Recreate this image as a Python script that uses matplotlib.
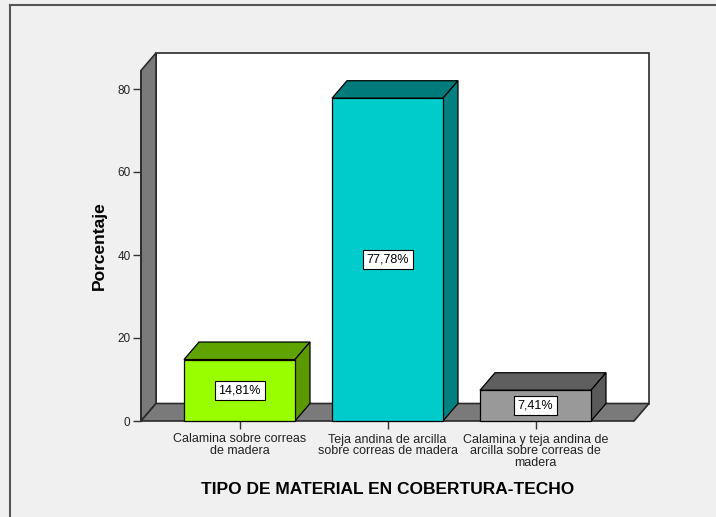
import matplotlib
matplotlib.use("Agg")
import matplotlib.pyplot as plt
from matplotlib.patches import Polygon, Rectangle

plt.rcParams['font.family'] = ['Liberation Sans', 'DejaVu Sans']

categories = ["Calamina sobre correas\nde madera",
              "Teja andina de arcilla\nsobre correas de madera",
              "Calamina y teja andina de\narcilla sobre correas de\nmadera"]
values = [14.81, 77.78, 7.41]
value_labels = ["14,81%", "77,78%", "7,41%"]
yticks = [0, 20, 40, 60, 80]
xlabel = "TIPO DE MATERIAL EN COBERTURA-TECHO"
ylabel = "Porcentaje"

front_colors = ["#99FF00", "#00CCCC", "#999999"]
top_colors = ["#5FA300", "#007B7B", "#5F5F5F"]
side_colors = ["#5A9A00", "#008080", "#595959"]

W, H = 716, 517
fig = plt.figure(figsize=(W / 100, H / 100), dpi=100, facecolor="#F0F0F0")

# figure border
fig.add_artist(plt.Line2D([10 / W, 10 / W], [0, 1 - 5 / H], color="#555555", lw=1.5))
fig.add_artist(plt.Line2D([10 / W, 1], [1 - 5 / H, 1 - 5 / H], color="#555555", lw=1.5))

# axes box in pixels (image coords)
L, R, T, B = 141, 650, 53, 421
ax = fig.add_axes([L / W, (H - B) / H, (R - L) / W, (B - T) / H])
ax.set_facecolor("none")
px_x = 148.0      # pixels per category
px_y = 4.15       # pixels per percent
x0 = -98.5 / px_x
ax.set_xlim(x0, x0 + (R - L) / px_x)
ax.set_ylim(0, (B - T) / px_y)

ddx = 15 / px_x
ddy = 17.5 / px_y
x1 = x0 + (634 - 141) / px_x
ytop = (B - T) / px_y - ddy

wall = "#7A7A7A"
ec = "#2A2A2A"
# back wall
ax.add_patch(Polygon([(x0 + ddx, ddy), (x1 + ddx, ddy), (x1 + ddx, ytop + ddy), (x0 + ddx, ytop + ddy)],
                     closed=True, facecolor="white", edgecolor=ec, lw=1.2, clip_on=False, zorder=1))
# left wall
ax.add_patch(Polygon([(x0, 0), (x0, ytop), (x0 + ddx, ytop + ddy), (x0 + ddx, ddy)],
                     closed=True, facecolor=wall, edgecolor=ec, lw=1.2, clip_on=False, zorder=2))
# floor
ax.add_patch(Polygon([(x0, 0), (x1, 0), (x1 + ddx, ddy), (x0 + ddx, ddy)],
                     closed=True, facecolor=wall, edgecolor=ec, lw=1.2, clip_on=False, zorder=2))

bw = 111 / px_x
for i, v in enumerate(values):
    a, b = i - bw / 2, i + bw / 2
    ax.add_patch(Polygon([(a, v), (b, v), (b + ddx, v + ddy), (a + ddx, v + ddy)], closed=True,
                         facecolor=top_colors[i], edgecolor="black", lw=0.9, clip_on=False, zorder=3))
    ax.add_patch(Polygon([(b, 0), (b + ddx, ddy), (b + ddx, v + ddy), (b, v)], closed=True,
                         facecolor=side_colors[i], edgecolor="black", lw=0.9, clip_on=False, zorder=3))
    ax.add_patch(Rectangle((a, 0), bw, v, facecolor=front_colors[i], edgecolor="black",
                           lw=0.9, clip_on=False, zorder=4))
    ax.text(i, v / 2, value_labels[i], ha="center", va="center", fontsize=9, zorder=5,
            bbox=dict(boxstyle="square,pad=0.3", facecolor="white", edgecolor="black", lw=0.8))

for s in ["top", "right", "bottom"]:
    ax.spines[s].set_visible(False)
ax.spines["left"].set_bounds(0, ytop)
ax.spines["left"].set_color(ec)
ax.spines["left"].set_linewidth(1.2)
ax.spines["left"].set_zorder(6)

ax.set_yticks(yticks)
ax.set_yticklabels([str(t) for t in yticks])
ax.tick_params(axis="y", direction="out", length=6, width=1, pad=1.5, labelsize=8.5,
               color="#333333", labelcolor="#222222")
ax.set_xticks(range(len(categories)))
ax.set_xticklabels(categories, fontsize=9, linespacing=0.95, color="#222222")
ax.tick_params(axis="x", direction="out", length=6, width=1, pad=3, color="#333333")

fig.text(388 / W, 1 - 490 / H, xlabel, ha="center", va="center", fontsize=12.5, fontweight="bold")
fig.text(99 / W, 1 - 246 / H, ylabel, ha="center", va="center", rotation=90, fontsize=12.5,
         fontweight="bold")

fig.savefig("out.png", dpi=100, facecolor=fig.get_facecolor())
